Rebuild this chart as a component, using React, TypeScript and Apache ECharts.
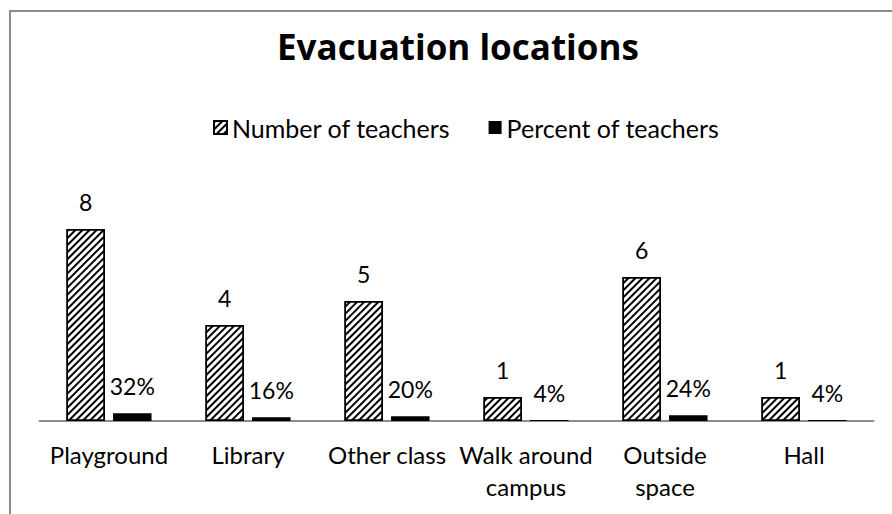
import React, { useEffect, useRef } from "react";
import * as echarts from "echarts";

const categories = ["Playground", "Library", "Other class", "Walk around\ncampus", "Outside\nspace", "Hall"];
const numberOfTeachers = [8, 4, 5, 1, 6, 1];
const percentOfTeachers = [0.32, 0.16, 0.2, 0.04, 0.24, 0.04];
const seriesNames = ["Number of teachers", "Percent of teachers"];
const titleText = "Evacuation locations";

const FONT = "Lato, 'Open Sans', sans-serif";
const TITLE_FONT = "'Open Sans', Lato, sans-serif";

export default function App() {
  const ref = useRef<HTMLDivElement>(null);
  useEffect(() => {
    if (!ref.current) return;
    const chart = echarts.init(ref.current, undefined, { renderer: "svg" });
    chart.setOption({
      animation: false,
      backgroundColor: "#fff",
      title: {
        text: titleText,
        left: 272,
        top: 24,
        textStyle: { fontFamily: TITLE_FONT, fontSize: 35, fontWeight: "bold", color: "#000" },
      },
      legend: {
        top: 110,
        left: 208,
        itemWidth: 13,
        itemHeight: 13,
        itemGap: 38,
        icon: "rect",
        textStyle: { fontFamily: FONT, fontSize: 25, color: "#000" },
        data: seriesNames,
      },
      grid: { left: 39.5, right: 18.5, top: 181, bottom: 93 },
      xAxis: {
        type: "category",
        data: categories,
        axisLine: { lineStyle: { color: "#8c8c8c", width: 2 } },
        axisTick: { show: false },
        axisLabel: {
          fontFamily: FONT,
          fontSize: 24,
          color: "#000",
          margin: 17,
          lineHeight: 32,
          interval: 0,
        },
      },
      yAxis: { type: "value", min: 0, max: 10, show: false, splitLine: { show: false } },
      series: [
        {
          name: seriesNames[0],
          type: "bar",
          data: numberOfTeachers,
          barWidth: 38.5,
          barGap: "21%",
          itemStyle: {
            color: "#fff",
            borderColor: "#000",
            borderWidth: 1.5,
            decal: {
              symbol: "rect",
              symbolSize: 1,
              dashArrayX: [1, 0],
              dashArrayY: [1.5, 2.5],
              rotation: -Math.PI / 4,
              color: "#000",
              backgroundColor: "#fff",
            },
          },
          label: {
            show: true,
            position: "top",
            distance: 16,
            fontFamily: FONT,
            fontSize: 23,
            color: "#000",
          },
        },
        {
          name: seriesNames[1],
          type: "bar",
          data: percentOfTeachers,
          barWidth: 38.5,
          itemStyle: { color: "#000" },
          label: {
            show: true,
            position: "top",
            distance: 16,
            fontFamily: FONT,
            fontSize: 23,
            color: "#000",
            formatter: (p: any) => Math.round(p.value * 100) + "%",
          },
        },
      ],
      graphic: [
        {
          type: "rect",
          shape: { x: 10, y: 11, width: 1000, height: 1000 },
          style: { fill: "none", stroke: "#8c8c8c", lineWidth: 2 },
          silent: true,
        },
      ],
    });
    return () => chart.dispose();
  }, []);
  return (
    <div
      ref={ref}
      style={{ position: "fixed", left: 0, top: 0, width: 892, height: 514 }}
    />
  );
}
